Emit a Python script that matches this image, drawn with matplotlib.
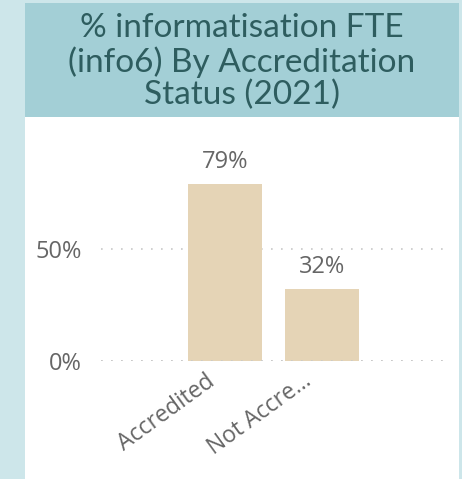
import matplotlib.pyplot as plt
from matplotlib.patches import Rectangle

categories = ["Accredited", "Not Accre..."]
values = [0.79, 0.32]
value_labels = ["79%", "32%"]
yticks = [0.0, 0.5]
ytick_labels = ["0%", "50%"]
title = "% informatisation FTE\n(info6) By Accreditation\nStatus (2021)"

W, H = 462, 479
fig = plt.figure(figsize=(W / 100, H / 100), dpi=100)
fig.patch.set_facecolor("#cde6ea")

def fx(px):
    return px / W

def fy(py):
    return 1 - py / H

# white card and title band
fig.patches.append(Rectangle((fx(25), fy(479)), fx(459) - fx(25), fy(117) - fy(479),
                             transform=fig.transFigure, facecolor="white", edgecolor="none", zorder=-2))
fig.patches.append(Rectangle((fx(25), fy(117)), fx(459) - fx(25), fy(3) - fy(117),
                             transform=fig.transFigure, facecolor="#a3cfd6", edgecolor="none", zorder=-1))
fig.text(fx(242), fy(62), title, ha="center", va="center", fontsize=24,
         family="Lato", color="#2e5d5f", linespacing=1.1)

# plot area: y=0 at 361px, y=1 at 137px
ax = fig.add_axes([fx(101), fy(361), fx(450) - fx(101), fy(137) - fy(361)])
ax.set_facecolor("none")
x = list(range(len(categories)))
ax.bar(x, values, width=0.763, color="#e5d4b6", zorder=2)
ax.set_xlim(-1.28, 2.32)
ax.set_ylim(0, 1.0)

for xi, v, lab in zip(x, values, value_labels):
    ax.annotate(lab, (xi, v), xytext=(0, 11.5), textcoords="offset points",
                ha="center", va="baseline", fontsize=17,
                family="Open Sans", color="#666666")

grid_style = dict(color="#c8c8c8", linestyle=(0, (1, 5)), linewidth=1.2)
ax.set_yticks(yticks)
ax.set_yticklabels(ytick_labels)
ax.yaxis.grid(True, zorder=1, **grid_style)
ax.axhline(0, zorder=3, **grid_style)  # baseline stays visible along the bar feet
for lab in ax.get_yticklabels():
    lab.set_family("Open Sans")
    lab.set_fontsize(17)
    lab.set_color("#666666")

# rotated category labels, anchored just left of each bar centre
ax.set_xticks(x)
ax.set_xticklabels([])
for xi, cat in zip(x, categories):
    ax.annotate(cat, (xi, 0), xycoords=("data", "axes fraction"),
                xytext=(-14.4, -6), textcoords="offset points",
                rotation=36, rotation_mode="anchor", ha="right", va="top",
                fontsize=16.5, family="Open Sans", color="#666666",
                annotation_clip=False)

ax.tick_params(axis="both", length=0)
ax.tick_params(axis="y", pad=14)
for s in ax.spines.values():
    s.set_visible(False)

fig.savefig("out.png", dpi=100)
